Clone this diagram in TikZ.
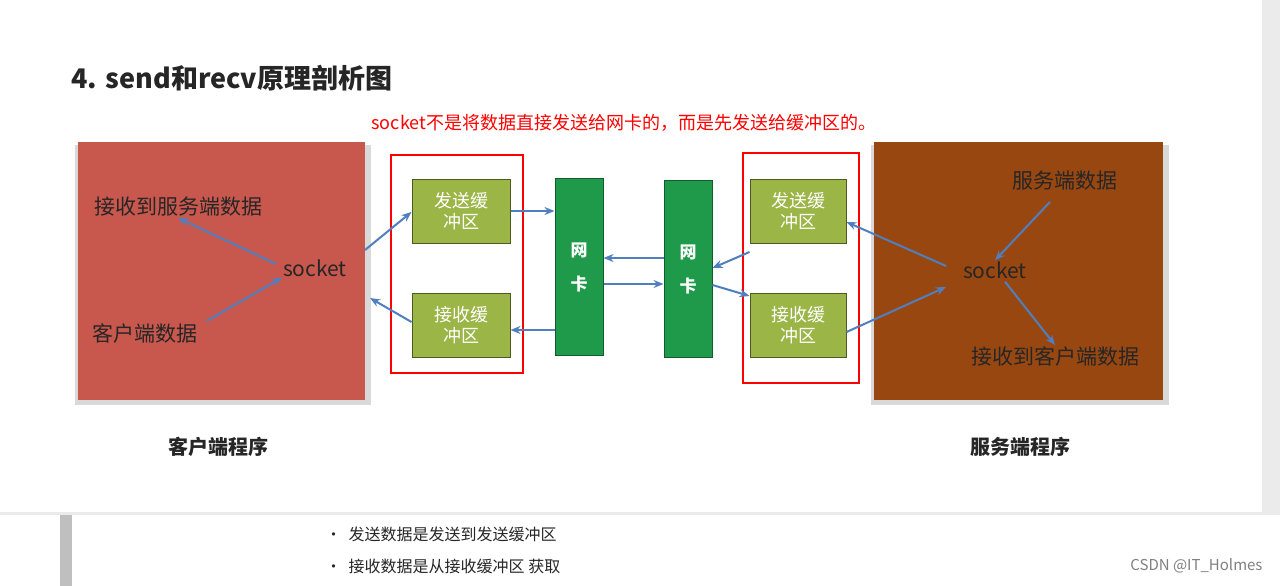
\documentclass[tikz,border=0pt]{standalone}
\usepackage{fontspec}
\setmainfont{Noto Sans CJK SC}
\usetikzlibrary{arrows.meta}
\definecolor{arr}{HTML}{4F7FBF}
\definecolor{cli}{HTML}{C8574D}
\definecolor{srv}{HTML}{984711}
\definecolor{buf}{HTML}{9BB547}
\definecolor{nic}{HTML}{1E9A4A}
\tikzset{
 a/.style={draw=arr,line width=2pt,-{Stealth[length=10pt,width=8pt]}},
 bufbox/.style={draw=buf!50!black,line width=1pt,fill=buf,text=white,font=\fontsize{18}{21}\selectfont,align=center,minimum width=98pt,minimum height=64pt,inner sep=0pt},
 nicbox/.style={draw=nic!60!black,line width=1pt,fill=nic,text=white,font=\bfseries\fontsize{17}{20}\selectfont,align=center,minimum width=48pt,minimum height=177pt,inner sep=0pt},
 redframe/.style={draw=red,line width=1.5pt},
 lab/.style={font=\fontsize{21}{24}\selectfont,text=black!85,inner sep=1pt},
 wlab/.style={font=\fontsize{21}{24}\selectfont,text=black!85,inner sep=1pt}
}
\begin{document}
\begin{tikzpicture}[x=1pt,y=-1pt]
\useasboundingbox (0,0) rectangle (1280,586);
\fill[white] (0,0) rectangle (1280,586);
\fill[black!8] (1262,0) rectangle (1280,515);
\fill[black!8] (0,512) rectangle (1280,515);
\fill[black!25] (60,515) rectangle (72,586);
\node[anchor=west,font=\bfseries\fontsize{27}{30}\selectfont,text=black!85] (title) at (68,78) {4. send和recv原理剖析图};
\node[anchor=west,font=\fontsize{18}{20}\selectfont,text=red] (note) at (368,123) {socket不是将数据直接发送给网卡的，而是先发送给缓冲区的。};
% program boxes
\fill[black!15] (75,145) rectangle (371,405);
\node[fill=cli,minimum width=287pt,minimum height=258pt,inner sep=0pt,anchor=north west] (client) at (78,142) {};
\fill[black!15] (871,145) rectangle (1169,405);
\node[fill=srv,minimum width=289pt,minimum height=258pt,inner sep=0pt,anchor=north west] (server) at (874,142) {};
\node[lab] (crecv) at (178,207) {接收到服务端数据};
\node[lab] (csock) at (315,268) {socket};
\node[lab] (cdata) at (145,333) {客户端数据};
\node[wlab] (sdata) at (1065,181) {服务端数据};
\node[wlab] (ssock) at (995,270) {socket};
\node[wlab] (srecv) at (1055,356) {接收到客户端数据};
\node[lab,font=\bfseries\fontsize{20}{23}\selectfont] (cname) at (218,447) {客户端程序};
\node[lab,font=\bfseries\fontsize{20}{23}\selectfont] (sname) at (1020,447) {服务端程序};
% frames
\node[redframe,minimum width=132pt,minimum height=218pt,anchor=north west,inner sep=0pt] (lframe) at (390,154) {};
\node[redframe,minimum width=116pt,minimum height=230pt,anchor=north west,inner sep=0pt] (rframe) at (742,152) {};
% buffers
\node[bufbox] (lsend) at (461,211) {发送缓\\冲区};
\node[bufbox] (lrecv) at (461,325) {接收缓\\冲区};
\node[bufbox,minimum width=96pt] (rsend) at (798,211) {发送缓\\冲区};
\node[bufbox,minimum width=96pt] (rrecv) at (798,325) {接收缓\\冲区};
\node[nicbox] (nic1) at (579,267) {网\\[14pt]卡};
\node[nicbox] (nic2) at (688,269) {网\\[14pt]卡};
% arrows
\draw[a] (csock.west) ++(-6,-4) coordinate (c1) -- (crecv.south);
\draw[a] (cdata.east) ++(8,-12) -- (csock.south west);
\draw[a] (365,250) coordinate (cl1) -- (lsend.west|-0,212);
\draw[a] (lrecv.west|-0,322) -- (370,298) coordinate (cl2);
\draw[a] (lsend.east) -- (nic1.west|-lsend.east);
\draw[a] (nic1.west|-0,330) -- (lrecv.east|-0,330);
\draw[a] (nic2.west|-0,258) -- (nic1.east|-0,258);
\draw[a] (nic1.east|-0,284) -- (nic2.west|-0,284);
\draw[a] (rsend.west|-0,252) -- (nic2.east|-0,268);
\draw[a] (nic2.east|-0,285) -- (rrecv.west|-0,296);
\draw[a] (946,266) coordinate (s1) -- (rsend.east|-0,222);
\draw[a] (rrecv.east|-0,332) -- (946,287) coordinate (s2);
\draw[a] (sdata.south) ++(-15,10) -- (ssock.north);
\draw[a] (ssock.south) ++(10,2) -- (srecv.north);
% bullets
\node[anchor=west,font=\fontsize{16}{18}\selectfont,text=black!85] (b1) at (322,534) {•\ \ 发送数据是发送到发送缓冲区};
\node[anchor=west,font=\fontsize{16}{18}\selectfont,text=black!85] (b2) at (322,566) {•\ \ 接收数据是从接收缓冲区 获取};
\node[anchor=east,font=\fontsize{15}{17}\selectfont,text=black!50] (wm) at (1266,566) {CSDN @IT\_Holmes};
\end{tikzpicture}
\end{document}
